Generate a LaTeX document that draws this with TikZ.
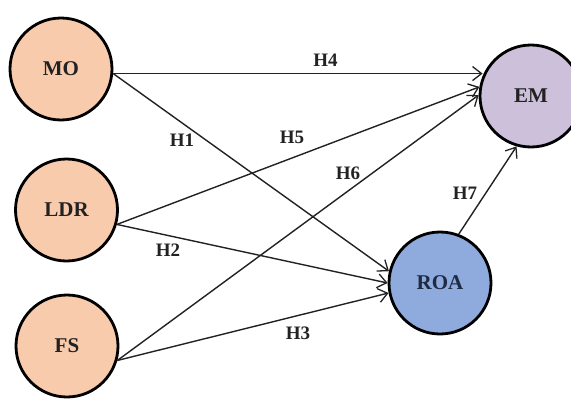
\documentclass[tikz,border=0pt]{standalone}
\usepackage{fontspec}
\setmainfont{Liberation Serif}
\usetikzlibrary{arrows.meta}
\definecolor{peach}{HTML}{F8CBAD}
\definecolor{lav}{HTML}{CCC0DA}
\definecolor{roablue}{HTML}{8FAADC}
\definecolor{ink}{HTML}{222222}
\definecolor{navy}{HTML}{1F2A44}
\begin{document}
\begin{tikzpicture}[x=1pt,y=-1pt,
  var/.style={circle,draw=black,line width=2.8pt,minimum size=102pt,inner sep=0pt,
    font=\fontsize{21}{23}\selectfont\bfseries,text=ink},
  conn/.style={draw=ink,line width=1.4pt},
  arr/.style={conn,-{Straight Barb[length=9pt,width=14pt,line width=1.3pt]}},
  hlab/.style={font=\fontsize{19}{21}\selectfont\bfseries,text=ink,inner sep=0pt}]
\useasboundingbox (0,0) rectangle (571,399);
\fill[white] (0,0) rectangle (571,399);
\node[var,fill=peach] (mo) at (61,69) {MO};
\node[var,fill=peach] (ldr) at (66.5,210) {LDR};
\node[var,fill=peach] (fs) at (67,346) {FS};
\node[var,fill=lav] (em) at (531,96) {EM};
\node[var,fill=roablue,text=navy] (roa) at (440,283) {ROA};
\coordinate (emin) at ([xshift=4pt]mo.-5 -| em.west);
% connectors
\draw[arr] (mo.-5) -- (emin);
\draw[arr] (mo.-5) -- (roa.167);
\draw[arr] (ldr.-16) -- (em.170);
\draw[arr] (ldr.-16) -- (roa.180);
\draw[arr] (fs.-16) -- (em.179);
\draw[arr] (fs.-16) -- (roa.191);
\draw[arr] (roa.69) -- (em.254);
% labels
\node[hlab] (h4) at (325.5,60) {H4};
\node[hlab] (h1) at (182,140) {H1};
\node[hlab] (h5) at (292,137) {H5};
\node[hlab] (h6) at (348,173) {H6};
\node[hlab] (h2) at (168,250) {H2};
\node[hlab] (h3) at (298,333) {H3};
\node[hlab] (h7) at (465,193) {H7};
\end{tikzpicture}
\end{document}
